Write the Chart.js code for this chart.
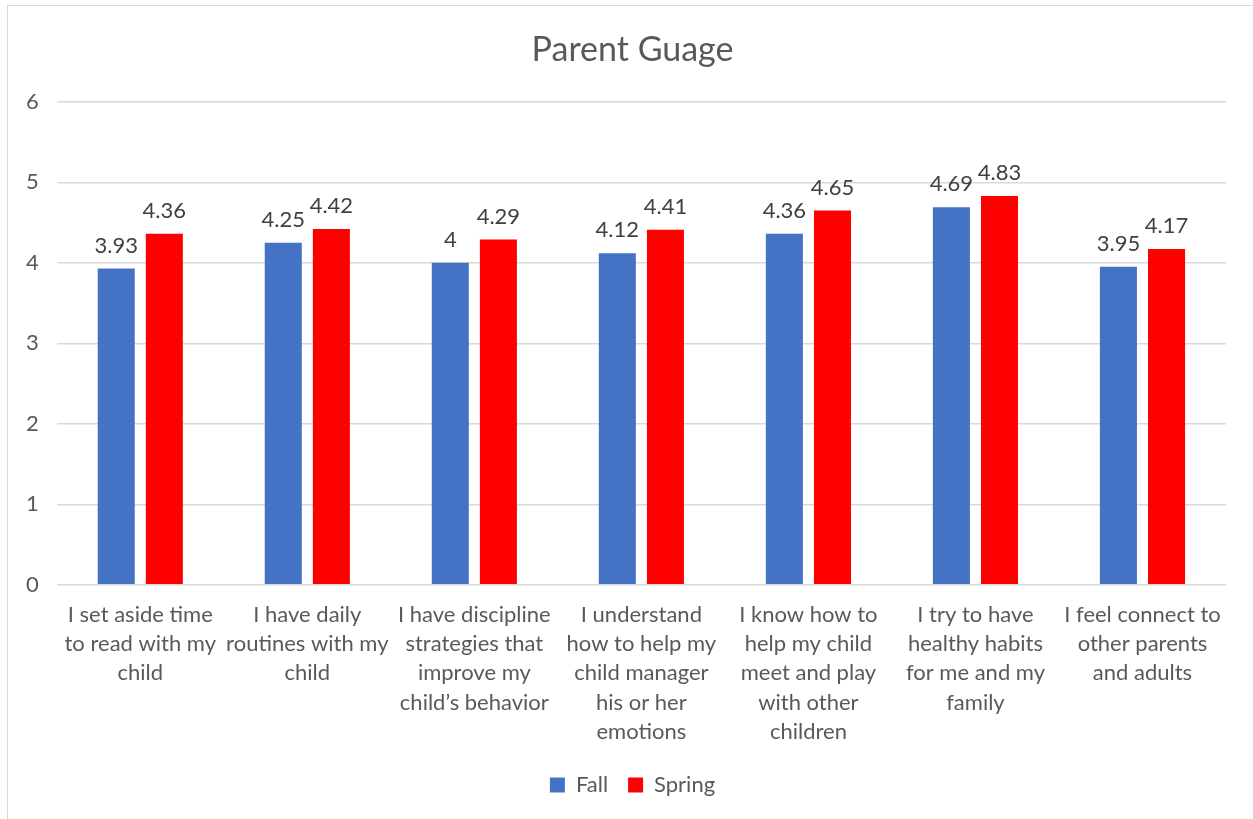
<!DOCTYPE html>
<html>
<head>
<meta charset="utf-8">
<script src="https://cdn.jsdelivr.net/npm/chart.js@4"></script>
<style>
  body { margin: 0; background: #fff; overflow: hidden; }
  #box { position: absolute; left: 7px; top: 5px; width: 1250px; height: 814px; border-left: 1px solid #d9d9d9; border-top: 1px solid #d9d9d9; box-sizing: border-box; }
</style>
</head>
<body>
<div id="box"><canvas id="chart"></canvas></div>
<script>
// chart data
var categories = [
    ["I set aside time", "to read with my", "child"],
    ["I have daily", "routines with my", "child"],
    ["I have discipline", "strategies that", "improve my", "child\u2019s behavior"],
    ["I understand", "how to help my", "child manager", "his or her", "emotions"],
    ["I know how to", "help my child", "meet and play", "with other", "children"],
    ["I try to have", "healthy habits", "for me and my", "family"],
    ["I feel connect to", "other parents", "and adults"]
];
var fall = [3.93, 4.25, 4, 4.12, 4.36, 4.69, 3.95];
var spring = [4.36, 4.42, 4.29, 4.41, 4.65, 4.83, 4.17];
var yTicks = [0, 1, 2, 3, 4, 5, 6];

var FONT = "Lato, 'Open Sans', sans-serif";
var GREY = '#595959';

// draw the numbers above each bar
var valueLabels = {
    id: 'valueLabels',
    afterDatasetsDraw: function (chart) {
        var ctx = chart.ctx;
        ctx.save();
        ctx.font = '22px ' + FONT;
        ctx.fillStyle = '#404040';
        ctx.textAlign = 'center';
        ctx.textBaseline = 'bottom';
        chart.data.datasets.forEach(function (ds, i) {
            chart.getDatasetMeta(i).data.forEach(function (bar, j) {
                ctx.fillText(ds.data[j], bar.x, bar.y - 12);
            });
        });
        ctx.restore();
    }
};

var ctx = document.getElementById('chart');
var myChart = new Chart(ctx, {
    type: 'bar',
    data: {
        labels: categories,
        datasets: [
            { label: 'Fall', data: fall, backgroundColor: '#4472c4' },
            { label: 'Spring', data: spring, backgroundColor: '#ff0000' }
        ]
    },
    options: {
        responsive: true,
        maintainAspectRatio: false,
        animation: false,
        layout: { padding: { left: 0, right: 0, top: 10, bottom: 13 } },
        datasets: { bar: { categoryPercentage: 0.576, barPercentage: 0.77 } },
        plugins: {
            title: {
                display: true,
                text: 'Parent Guage',
                color: GREY,
                font: { family: FONT, size: 34, weight: 'normal' },
                padding: { top: 14, bottom: 31 }
            },
            legend: {
                position: 'bottom',
                labels: {
                    color: GREY,
                    font: { family: FONT, size: 22 },
                    boxWidth: 15,
                    boxHeight: 15,
                    padding: 20
                }
            },
            tooltip: { enabled: false }
        },
        scales: {
            x: {
                grid: { display: false },
                border: { display: false },
                ticks: {
                    color: GREY,
                    font: { family: FONT, size: 22, lineHeight: 1.32 },
                    maxRotation: 0,
                    autoSkip: false,
                    padding: 8
                }
            },
            y: {
                min: 0,
                max: 6,
                afterBuildTicks: function (axis) {
                    axis.ticks = yTicks.map(function (v) { return { value: v }; });
                },
                grid: { color: '#d9d9d9', lineWidth: 1.5, drawTicks: false },
                border: { display: false },
                ticks: {
                    color: GREY,
                    font: { family: FONT, size: 22 },
                    padding: 18
                }
            },
            // empty right-hand axis, only keeps a margin right of the plot
            yRight: {
                position: 'right',
                min: 0,
                max: 6,
                grid: { display: false },
                border: { display: false },
                ticks: { display: false },
                afterFit: function (axis) { axis.width = 31; }
            }
        }
    },
    plugins: [valueLabels]
});
</script>
</body>
</html>
